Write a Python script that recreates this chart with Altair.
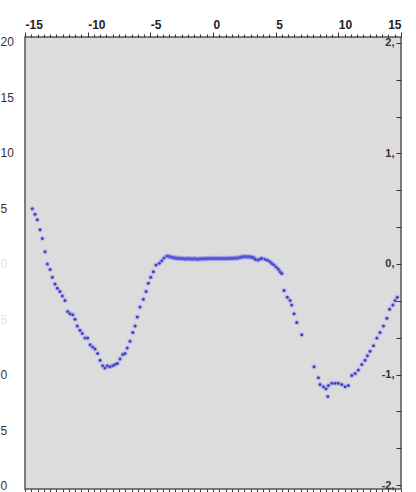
import altair as alt
import pandas as pd

# ---- data (x in top-axis units, y in right-axis units) ----
x_vals = [
    -14.42, -14.20, -14.02, -13.80, -13.62, -13.40, -13.22, -13.00, -12.82, -12.61,
    -12.42, -12.21, -12.02, -11.81, -11.59, -11.41, -11.19, -11.01, -10.83, -10.61,
    -10.43, -10.21, -10.00, -9.81, -9.60, -9.41, -9.20, -9.01, -8.80, -8.62,
    -8.43, -8.22, -8.00, -7.82, -7.63, -7.42, -7.20, -7.02, -6.84, -6.62,
    -6.40, -6.22, -6.04, -5.82, -5.56, -5.34, -5.16, -4.97, -4.76, -4.55,
    -4.28, -4.09, -3.91, -3.69, -3.55, -3.43, -3.30,
    -3.2, -3.1, -3.0, -2.9, -2.8, -2.7, -2.6, -2.5, -2.4, -2.3, -2.2, -2.1,
    -2.0, -1.9, -1.8, -1.7, -1.6, -1.5, -1.4, -1.3, -1.2, -1.1, -1.0, -0.9,
    -0.8, -0.7, -0.6, -0.5, -0.4, -0.3, -0.2, -0.1, 0.0, 0.1, 0.2, 0.3,
    0.4, 0.5, 0.6, 0.7, 0.8, 0.9, 1.0, 1.1, 1.2, 1.3, 1.4, 1.5,
    1.6, 1.7, 1.8, 1.9, 2.0, 2.1, 2.2, 2.3, 2.4, 2.5, 2.6, 2.7,
    2.8, 2.9, 3.0, 3.1, 3.2, 3.3,
    3.4, 3.6, 3.75, 3.9, 4.15, 4.35, 4.55, 4.7, 4.87, 5.05, 5.22, 5.35, 5.49, 5.67, 5.93,
    6.15, 6.28, 6.47, 6.68, 7.08, 8.06, 8.41, 8.54, 8.81, 9.02,
    9.16, 9.21, 9.48, 9.74, 10.00, 10.28, 10.54, 10.80, 11.07, 11.34,
    11.60, 11.87, 12.13, 12.32, 12.53, 12.80, 13.07, 13.33, 13.60, 13.87,
    14.09, 14.35, 14.53, 14.71,
]
y_vals = [
    0.50, 0.45, 0.40, 0.31, 0.23, 0.11, 0.00, -0.05, -0.12, -0.18,
    -0.22, -0.25, -0.29, -0.33, -0.43, -0.45, -0.46, -0.50, -0.56, -0.60,
    -0.63, -0.67, -0.67, -0.73, -0.75, -0.77, -0.81, -0.87, -0.92, -0.94,
    -0.92, -0.93, -0.92, -0.91, -0.90, -0.86, -0.82, -0.81, -0.76, -0.70,
    -0.62, -0.56, -0.48, -0.39, -0.32, -0.25, -0.175, -0.12, -0.07, -0.01,
    0.006, 0.03, 0.054, 0.072, 0.070, 0.066, 0.060,
    0.058, 0.056, 0.055, 0.053, 0.052, 0.051, 0.050, 0.050, 0.050, 0.048, 0.046, 0.047,
    0.048, 0.048, 0.047, 0.046, 0.046, 0.047, 0.048, 0.046, 0.044, 0.046, 0.048, 0.048,
    0.048, 0.048, 0.048, 0.049, 0.050, 0.050, 0.050, 0.050, 0.050, 0.050, 0.050, 0.050,
    0.050, 0.050, 0.050, 0.050, 0.050, 0.050, 0.050, 0.050, 0.050, 0.051, 0.052, 0.052,
    0.052, 0.053, 0.054, 0.054, 0.055, 0.058, 0.062, 0.064, 0.066, 0.066, 0.066, 0.066,
    0.066, 0.065, 0.064, 0.062, 0.060, 0.050,
    0.040, 0.036, 0.045, 0.052, 0.043, 0.035, 0.021, 0.005, -0.009, -0.030, -0.048, -0.070, -0.085, -0.24, -0.30,
    -0.33, -0.37, -0.45, -0.53, -0.64, -0.93, -1.03, -1.09, -1.11, -1.13,
    -1.20, -1.10, -1.08, -1.08, -1.08, -1.09, -1.11, -1.10, -1.01, -0.99,
    -0.96, -0.91, -0.87, -0.83, -0.79, -0.74, -0.67, -0.62, -0.56, -0.49,
    -0.41, -0.37, -0.33, -0.30,
]

# ---- tick labels ----
top_tick_values = [-15, -10, -5, 0, 5, 10, 15]
top_tick_labels = ["-15", "-10", "-5", "0", "5", "10", "15"]
right_tick_values = [-2, -1, 0, 1, 2]
right_tick_labels = ["-2,", "-1,", "0,", "1,", "2,"]
left_tick_values = [20, 15, 10, 5, 0, -5, -10, -15, -20]
left_tick_labels = ["20", "15", "10", "5", "0", "5", "0", "5", "0"]
left_faint_values = [0, -5]

top_minor = [-15 + 0.5 * k for k in range(61)]
right_minor = [-2 + k / 3 for k in range(13)]


def label_lookup(values, labels):
    expr = "''"
    for v, l in zip(values, labels):
        expr = f"abs(datum.value - ({v})) < 0.001 ? '{l}' : ({expr})"
    return expr


major_test = "abs(datum.value % 5) < 0.001"

df = pd.DataFrame({"x": x_vals, "y": y_vals})
df_left = pd.DataFrame({"xb": [0.0] * len(left_tick_values), "yl": left_tick_values})

font = "Liberation Sans"

top_axis = alt.Axis(
    orient="top", values=top_minor, title=None, grid=False, domain=False,
    tickSize=alt.condition(major_test, alt.value(5), alt.value(3)),
    tickColor="#333", tickWidth=1,
    labelExpr=label_lookup(top_tick_values, top_tick_labels),
    labelAlign=alt.condition("datum.value == 15", alt.value("right"), alt.value("left")),
    labelFlush=False, labelOverlap=False, labelPadding=1,
    labelFont=font, labelFontSize=12, labelFontWeight="bold", labelColor="#222",
)

right_axis = alt.Axis(
    orient="right", values=right_minor, title=None, grid=False, domain=False,
    offset=-5, tickSize=5, tickColor="#333", tickWidth=1,
    labelExpr=label_lookup(right_tick_values, right_tick_labels),
    labelAlign="right", labelBaseline="middle", labelPadding=-7,
    labelFlush=False, labelOverlap=False,
    labelFont=font, labelFontSize=11, labelFontWeight="bold", labelColor="#333",
)

bottom_axis = alt.Axis(
    orient="bottom", values=top_minor, title=None, grid=False, domain=False,
    labels=False,
    tickSize=alt.condition(major_test, alt.value(4), alt.value(3)),
    tickColor="#333", tickWidth=1,
)

left_axis = alt.Axis(
    orient="left", values=left_tick_values, title=None, grid=False, domain=False,
    ticks=True, tickSize=0, tickOpacity=0,
    labelExpr=label_lookup(left_tick_values, left_tick_labels),
    labelAlign="left", labelBaseline="middle", labelPadding=25,
    labelFlush=False, labelOverlap=False,
    labelFont=font, labelFontSize=12,
    labelColor=alt.condition(
        " || ".join(f"datum.value == {v}" for v in left_faint_values),
        alt.value("#e6e6e6"), alt.value("#333"),
    ),
)

points = alt.Chart(df).mark_circle(
    size=9, color="#2222b8", opacity=1,
    stroke="#8a8af0", strokeWidth=2.5, strokeOpacity=0.3,
).encode(
    x=alt.X("x:Q", scale=alt.Scale(domain=[-15, 15], nice=False, zero=False), axis=top_axis),
    y=alt.Y("y:Q", scale=alt.Scale(domain=[-2.036, 2.054], nice=False, zero=False), axis=right_axis),
)

left_layer = alt.Chart(df_left).mark_point(opacity=0).encode(
    x=alt.X("xb:Q", scale=alt.Scale(domain=[-15, 15], nice=False, zero=False), axis=bottom_axis),
    y=alt.Y("yl:Q", scale=alt.Scale(domain=[-20.3, 20.45], nice=False, zero=False), axis=left_axis),
)

chart = alt.layer(points, left_layer).resolve_scale(
    x="independent", y="independent"
).properties(
    width=376, height=452,
    autosize=alt.AutoSizeParams(type="none"),
    padding={"left": 25, "top": 37, "right": 15, "bottom": 3},
    background="white",
).configure_view(
    fill="#dcdcdc", stroke="#555555", strokeWidth=1.5,
)

chart.save("out.html", embed_options={"renderer": "svg", "actions": False})
